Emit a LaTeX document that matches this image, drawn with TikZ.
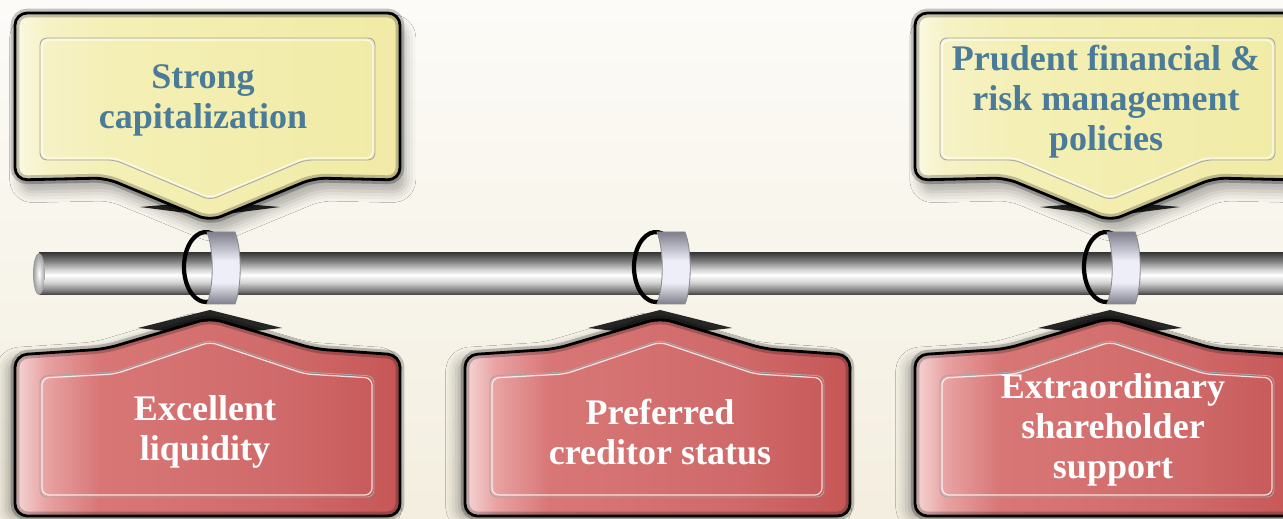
\documentclass[tikz,border=0pt]{standalone}
\usepackage{fontspec}
\setmainfont{Liberation Serif}
\usetikzlibrary{shadows.blur}
\definecolor{bgtop}{HTML}{FCFBF7}
\definecolor{bgbot}{HTML}{F3EEDF}
\definecolor{capblue}{HTML}{4A7C99}
\definecolor{ylwA}{HTML}{FBF9E4}
\definecolor{ylwB}{HTML}{F6F2C6}
\definecolor{ylwC}{HTML}{F4EFB5}
\definecolor{ylwD}{HTML}{F1EBA6}
\definecolor{redA}{HTML}{F6D6D6}
\definecolor{redB}{HTML}{E8A2A2}
\definecolor{redC}{HTML}{D87676}
\definecolor{redD}{HTML}{D06A6A}
\definecolor{redE}{HTML}{C65656}
\definecolor{roddark}{HTML}{3C3C3C}
\definecolor{rodmid}{HTML}{7A7A7A}
\definecolor{rodlight}{HTML}{D4D4D4}
\definecolor{ringlight}{HTML}{EEEEF8}
\definecolor{ringdark}{HTML}{7E7E8C}
\pgfdeclarehorizontalshading{yelshade}{100bp}{color(0bp)=(ylwA); color(25bp)=(ylwA);
  color(29bp)=(ylwB); color(38bp)=(ylwC); color(75bp)=(ylwD); color(100bp)=(ylwD)}
\pgfdeclarehorizontalshading{redshade}{100bp}{color(0bp)=(redA); color(25bp)=(redA);
  color(29bp)=(redB); color(36bp)=(redC); color(60bp)=(redD); color(75bp)=(redE); color(100bp)=(redE)}
\pgfdeclareverticalshading{rodshade}{100bp}{color(0bp)=(roddark); color(25bp)=(roddark);
  color(30bp)=(rodmid); color(40bp)=(rodlight); color(49bp)=(white); color(55bp)=(rodlight);
  color(66bp)=(rodmid); color(75bp)=(roddark); color(100bp)=(roddark)}
\pgfdeclareverticalshading{ringshade}{100bp}{color(0bp)=(ringdark); color(25bp)=(ringdark);
  color(40bp)=(ringlight); color(55bp)=(ringlight); color(75bp)=(ringdark); color(100bp)=(ringdark)}
\begin{document}
\begin{tikzpicture}[
  x=0.02cm, y=-0.02cm,
  ytext/.style={align=center,text=capblue,font=\fontsize{20.5}{22.8}\selectfont\bfseries},
  rtext/.style={align=center,text=white,font=\fontsize{20.5}{22.8}\selectfont\bfseries},
  ybox/.style={shade,shading=yelshade,draw=black,line width=1.6pt,rounded corners=7pt,
               blur shadow={shadow xshift=3pt,shadow yshift=-7pt,shadow blur radius=6pt,shadow opacity=30}},
  rbox/.style={shade,shading=redshade,draw=black,line width=1.6pt,rounded corners=7pt,
               blur shadow={shadow xshift=-5pt,shadow yshift=-2pt,shadow blur radius=6pt,shadow opacity=30}},
  rim/.style={draw=black,line width=5pt,opacity=0.22,rounded corners=7pt},
  groove/.style={draw=black!35,line width=0.5pt,rounded corners=4pt},
  groovehi/.style={draw=white,line width=0.7pt,opacity=0.8,rounded corners=4pt},
  wing/.style={fill=black!85},
]
\useasboundingbox (0,0) rectangle (1283,519);
\clip (0,0) rectangle (1283,519);
\shade[top color=bgtop,bottom color=bgbot] (0,0) rectangle (1283,519);

% upper callouts
\foreach \cx in {210,1110}{
  \fill[wing] (\cx-70,207) -- (\cx,201) -- (\cx+70,207) -- (\cx,216) -- cycle;
  \path[ybox] (\cx-195,180) -- (\cx-195,13) -- (\cx+190,13) -- (\cx+190,180)
    -- (\cx+104,178) -- (\cx,221) -- (\cx-104,178) -- cycle;
  \path[rim] (\cx-195,180) -- (\cx-195,13) -- (\cx+190,13) -- (\cx+190,180)
    -- (\cx+104,178) -- (\cx,221) -- (\cx-104,178) -- cycle;
  \path[groove] (\cx-170,160) -- (\cx-170,38) -- (\cx+165,38) -- (\cx+165,160)
    -- (\cx+95,160) -- (\cx,200) -- (\cx-95,160) -- cycle;
  \path[groovehi] (\cx-168,158) -- (\cx-168,40) -- (\cx+163,40) -- (\cx+163,158)
    -- (\cx+95,158) -- (\cx,198) -- (\cx-95,158) -- cycle;
}

% rod
\shade[shading=rodshade] (39,253) rectangle (1290,295);
\shade[inner color=white,outer color=black!40] (39,274) ellipse [x radius=0.12cm,y radius=0.42cm];

% rings
\foreach \cx in {210,660,1110}{
  \draw[line width=2.4pt] (\cx-4,267) ++(72:0.44cm and 0.7cm)
    arc[start angle=72,end angle=288,x radius=0.44cm,y radius=0.7cm];
  \shade[shading=ringshade,draw=black!45,line width=0.5pt]
    (\cx-3,232) -- (\cx+25,232) .. controls (\cx+32,250) and (\cx+32,286) .. (\cx+25,304)
    -- (\cx-3,304) .. controls (\cx+4,286) and (\cx+4,250) .. (\cx-3,232) -- cycle;
}

% lower callouts
\foreach \cx in {210,660,1110}{
  \fill[wing] (\cx-72,328) -- (\cx,310) -- (\cx+72,328) -- (\cx,336) -- cycle;
  \path[rbox] (\cx-195,516) -- (\cx-195,355) -- (\cx-105,349) -- (\cx,318)
    -- (\cx+105,349) -- (\cx+190,355) -- (\cx+190,516) -- cycle;
  \path[rim] (\cx-195,516) -- (\cx-195,355) -- (\cx-105,349) -- (\cx,318)
    -- (\cx+105,349) -- (\cx+190,355) -- (\cx+190,516) -- cycle;
  \path[groove] (\cx-170,497) -- (\cx-170,376) -- (\cx-95,372) -- (\cx,340)
    -- (\cx+95,372) -- (\cx+164,376) -- (\cx+164,497) -- cycle;
  \path[groovehi] (\cx-168,495) -- (\cx-168,378) -- (\cx-95,374) -- (\cx,342)
    -- (\cx+95,374) -- (\cx+162,378) -- (\cx+162,495) -- cycle;
}

\node[ytext] (capital) at (203,100) {Strong\\capitalization};
\node[ytext] (prudent) at (1106,102) {Prudent financial \&\\risk management\\policies};
\node[rtext] (liquidity) at (205,432) {Excellent\\liquidity};
\node[rtext] (creditor) at (660,432) {Preferred\\creditor status};
\node[rtext] (support) at (1113,430) {Extraordinary\\shareholder\\support};
\end{tikzpicture}
\end{document}
